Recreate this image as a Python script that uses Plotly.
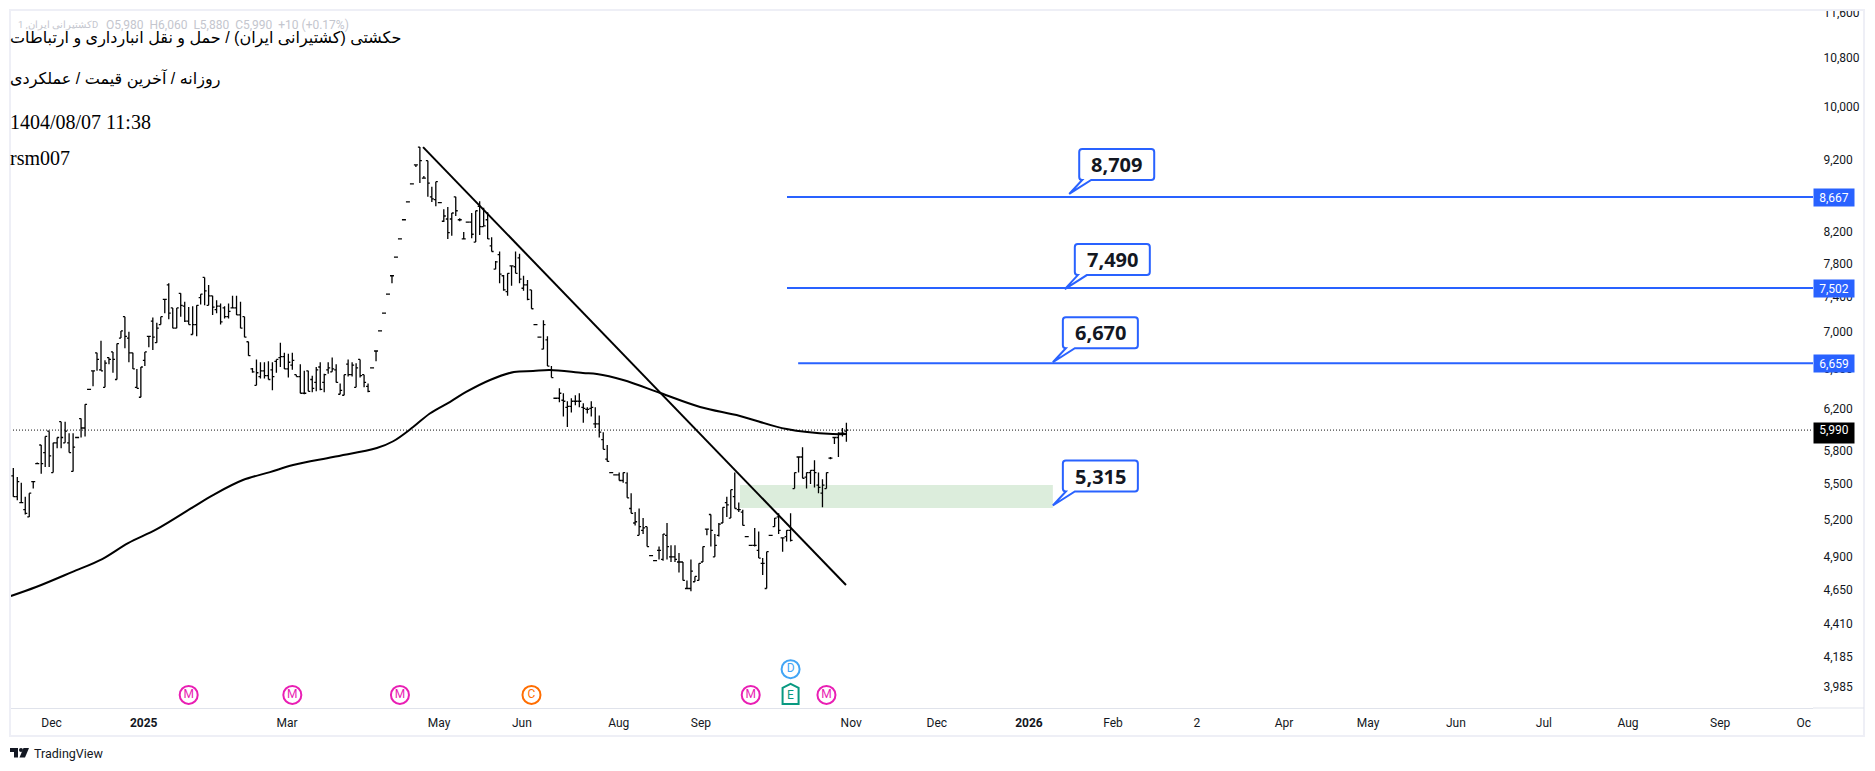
import math
import plotly.graph_objects as go

opens = [
 5570,5390,5340,5280,5220,5520,5680,5850,5780,5980,
 5600,5870,6070,5870,5870,5610,5920,6100,6010,6390,
 6580,6770,6590,6410,6720,6780,6490,6930,7170,6930,
 6770,6410,6310,6690,6950,7120,6880,7080,7370,7540,
 7270,7040,7440,7290,7120,6970,7080,7390,7630,7300,
 7410,7250,7290,7270,7170,7270,7270,7190,7170,6890,
 6600,6430,6520,6580,6530,6590,6680,6720,6730,6600,
 6640,6540,6520,6350,6580,6490,6460,6620,6460,6590,
 6570,6590,6340,6330,6650,6540,6410,6700,6540,6420,
 6610,6790,7010,7210,7430,7650,7880,8110,8360,8600,
 8850,9120,9380,8930,9180,8670,8630,8590,8340,8370,
 8370,8670,8360,8110,8330,8330,8070,8540,8270,8360,
 8020,7730,7910,7650,7460,7770,7760,7870,7500,7540,
 7480,7080,6940,6810,6910,6590,6300,6300,6280,6210,
 6220,6270,6270,6210,6190,6200,6050,6050,5900,5720,
 5600,5580,5580,5530,5510,5290,5170,5070,5110,5140,
 4910,4870,4950,4880,5070,4900,4900,4860,4860,4660,
 4660,4710,4720,4860,5120,5240,4900,5070,5170,5340,
 5210,5390,5280,5260,5060,4990,4990,4950,4850,4660,
 5070,5140,5220,5050,5060,5110,5460,5740,5740,5560,
 5600,5620,5490,5420,5460,5730,5920,5920,5960,5980]
highs = [
 5640,5560,5510,5390,5420,5520,5690,5850,5930,5980,
 5870,5920,6070,6070,5960,5960,5920,6100,6240,6390,
 6580,6770,6900,6690,6720,6780,6870,7010,7170,7000,
 6770,6600,6620,6780,6950,7160,7100,7170,7370,7560,
 7270,7270,7440,7340,7280,7290,7300,7430,7630,7540,
 7410,7360,7320,7290,7320,7410,7410,7340,7170,6890,
 6610,6700,6670,6670,6680,6670,6700,6880,6770,6760,
 6770,6540,6650,6580,6580,6530,6620,6670,6550,6670,
 6720,6650,6450,6540,6700,6670,6660,6700,6540,6450,
 6610,6790,7010,7210,7430,7650,7880,8110,8360,8600,
 8850,9120,9380,8960,9180,8810,8880,8590,8500,8530,
 8450,8670,8380,8200,8330,8450,8480,8610,8520,8460,
 8130,7830,7950,7660,7680,7770,7950,7920,7650,7600,
 7480,7080,6940,7130,6950,6630,6300,6400,6350,6270,
 6300,6330,6350,6250,6210,6270,6210,6130,5970,5850,
 5600,5580,5600,5600,5600,5420,5260,5290,5210,5140,
 4910,4870,4980,5080,5170,4990,4990,4930,4860,4720,
 4880,4750,4850,4980,5120,5240,5080,5170,5300,5390,
 5450,5600,5340,5280,5060,4990,5130,5100,4890,4940,
 5070,5210,5250,5050,5110,5250,5600,5740,5830,5600,
 5620,5710,5600,5540,5600,5740,5920,5970,6010,6060]
lows = [
 5390,5360,5340,5240,5220,5460,5680,5590,5650,5650,
 5600,5820,5820,5870,5780,5610,5920,5920,5930,6390,
 6420,6580,6580,6410,6650,6560,6490,6930,6820,6670,
 6600,6400,6310,6630,6830,6800,6880,7080,7210,7140,
 7040,7040,7170,7110,7080,6970,6950,7310,7300,7300,
 7190,7210,7080,7150,7150,7270,7190,7040,6940,6740,
 6560,6430,6500,6500,6490,6380,6560,6620,6600,6510,
 6590,6520,6350,6340,6370,6360,6370,6380,6360,6550,
 6570,6460,6340,6330,6520,6520,6410,6510,6410,6360,
 6610,6680,7010,7210,7430,7560,7880,8110,8360,8600,
 8850,9090,8860,8930,8670,8600,8540,8590,8330,8110,
 8150,8410,8340,8110,8330,8120,8070,8160,8270,8110,
 7950,7730,7560,7470,7410,7530,7680,7560,7470,7360,
 7260,7080,6940,6810,6630,6510,6300,6260,6120,6020,
 6160,6230,6210,6060,6150,6120,6010,5920,5810,5700,
 5600,5580,5530,5510,5380,5250,5150,5070,5080,4980,
 4910,4870,4880,4870,4880,4860,4860,4780,4720,4660,
 4640,4710,4720,4860,5070,4980,4900,5060,5170,5220,
 5210,5290,5260,5150,5060,4990,4980,4890,4760,4660,
 5070,5140,5080,4940,5020,5020,5460,5600,5550,5460,
 5500,5470,5420,5300,5460,5720,5860,5740,5930,5880]
closes = [
 5390,5520,5340,5250,5420,5520,5680,5680,5930,5750,
 5870,5920,5920,5980,5780,5830,5920,6010,6240,6390,
 6580,6700,6580,6660,6700,6700,6870,7010,6950,6770,
 6600,6400,6620,6780,6950,6940,7040,7170,7370,7210,
 7040,7270,7300,7120,7080,7080,7300,7430,7470,7410,
 7280,7290,7110,7170,7230,7270,7190,7040,6940,6740,
 6570,6560,6580,6530,6490,6520,6700,6730,6600,6670,
 6690,6520,6350,6350,6370,6400,6590,6390,6540,6610,
 6600,6460,6380,6540,6540,6640,6610,6530,6460,6370,
 6610,6790,7010,7210,7430,7650,7880,8110,8360,8600,
 8850,9120,9180,8930,8860,8640,8880,8590,8410,8190,
 8450,8480,8360,8110,8330,8170,8480,8270,8280,8110,
 7950,7820,7670,7480,7680,7770,7680,7610,7540,7370,
 7260,7080,6940,7080,6630,6510,6300,6350,6270,6220,
 6270,6270,6270,6200,6190,6210,6050,5970,5810,5700,
 5600,5580,5530,5600,5380,5250,5180,5140,5130,4980,
 4910,4870,4950,5080,4980,4900,4880,4860,4720,4660,
 4790,4750,4850,4980,5120,5110,4990,5160,5300,5320,
 5450,5290,5280,5150,5060,4990,4990,4890,4850,4940,
 5070,5210,5110,5050,5110,5030,5600,5740,5550,5600,
 5620,5600,5470,5490,5600,5730,5920,5960,5960,5990]

ma_index = [-0.6,5.7,14.7,22.3,28.8,36,45.1,50.1,57.6,64.4,70.2,80.2,91.2,95.3,100.3,104.5,
            109.6,113.6,119.6,125.6,130.4,134.6,142.9,146.4,153,162.3,172.3,182.3,194,205.6,208.9]
ma_values = [4605,4671,4783,4883,5008,5120,5302,5404,5534,5604,5667,5740,5822,5885,6019,6150,
             6265,6363,6485,6568,6578,6589,6557,6547,6485,6353,6214,6126,6000,5952,5952]

trend_index = [102.8, 208.9]
trend_values = [9380, 4686]

level_values = [8667, 7502, 6659]
level_starts = [194.1, 194.1, 196.9]

callout_values = [8709, 7490, 6670, 5315]
callout_index = [264.9, 263.8, 260.8, 260.8]

zone_index = [182.3, 260.8]
zone_values = [5294, 5490]

last_price = 5990

price_ticks = [11600,10800,10000,9200,8200,7800,7400,7000,6600,6200,5800,5500,5200,4900,4650,4410,4185,3985]
time_pos = [9.6,32.7,68.7,106.8,127.6,151.9,172.5,210.2,231.7,254.8,275.9,296.9,318.8,339.9,361.9,384,405.1,428.2,449.2]
time_labels = ["Dec","<b>2025</b>","Mar","May","Jun","Aug","Sep","Nov","Dec","<b>2026</b>","Feb","2","Apr","May","Jun","Jul","Aug","Sep","Oc"]

event_index = [44,70,97,130,185,204]
event_letters = ["M","M","M","C","M","M"]
event_colors = ["#e91eb4","#e91eb4","#e91eb4","#ff6d00","#e91eb4","#e91eb4"]
dividend_index = 195
event_level = 3937
dividend_level = 4101

title_lines = ["حکشتی (کشتیرانی ایران) / حمل و نقل انبارداری و ارتباطات",
               "روزانه / آخرین قیمت / عملکردی",
               "1404/08/07 11:38",
               "rsm007"]
legend_name = "کشتیرانی ایران, 1D"
legend_ohlc = "O5,980  H6,060  L5,880  C5,990  +10 (+0.17%)"

W, H = 1875, 771
L, R, T, B = 10, 1813, 10, 708
BLUE = "#2962ff"
bar_index = list(range(len(closes)))
y_range = [math.log10(3856), math.log10(11657)]
x_range = [-0.83, 451.5]
def px(x): return (x - L) / (R - L)
def py(y): return (B - y) / (B - T)

fig = go.Figure()
fig.add_trace(go.Scatter(x=x_range, y=[last_price, last_price], mode="lines",
                         line=dict(color="#111111", width=1, dash="1px 2px")))
fig.add_trace(go.Ohlc(x=bar_index, open=opens, high=highs, low=lows, close=closes, tickwidth=0.5,
                      increasing=dict(line=dict(color="#000000", width=1.3)),
                      decreasing=dict(line=dict(color="#000000", width=1.3))))
fig.add_trace(go.Scatter(x=ma_index, y=ma_values, mode="lines",
                         line=dict(color="#000000", width=2, shape="spline", smoothing=1.0)))
fig.add_trace(go.Scatter(x=trend_index, y=trend_values, mode="lines", line=dict(color="#000000", width=2)))
for v, s in zip(level_values, level_starts):
    fig.add_trace(go.Scatter(x=[s, x_range[1]], y=[v, v], mode="lines", line=dict(color=BLUE, width=2)))
fig.add_trace(go.Scatter(x=event_index, y=[event_level]*len(event_index), mode="markers+text",
                         text=event_letters, textposition="middle center",
                         textfont=dict(color=event_colors, size=12, family="Roboto"),
                         marker=dict(size=18, color="#ffffff", line=dict(color=event_colors, width=2))))
fig.add_trace(go.Scatter(x=[dividend_index], y=[dividend_level], mode="markers+text", text=["D"],
                         textposition="middle center", textfont=dict(color="#42a5f5", size=12, family="Roboto"),
                         marker=dict(size=18, color="#ffffff", line=dict(color="#42a5f5", width=2))))

shapes = [
    dict(type="rect", layer="below", xref="x", yref="y", x0=zone_index[0], x1=zone_index[1],
         y0=zone_values[0], y1=zone_values[1], fillcolor="#dceddc", line=dict(width=0)),
    dict(type="rect", xref="paper", yref="paper", x0=px(1814), x1=px(1875), y0=py(10), y1=py(0),
         fillcolor="#ffffff", line=dict(width=0), layer="above"),
    dict(type="rect", xref="paper", yref="paper", x0=px(10), x1=px(1864), y0=py(736), y1=py(10),
         line=dict(color="#eeeff6", width=2), layer="above"),
    dict(type="line", xref="paper", yref="paper", x0=px(1813), x1=px(1864), y0=py(708), y1=py(708),
         line=dict(color="#e0e3eb", width=1)),
    dict(type="path", xref="x", yref="y", xsizemode="pixel", ysizemode="pixel",
         xanchor=dividend_index, yanchor=event_level,
         path="M -8,7 L 0,11 L 8,7 L 8,-9 L -8,-9 Z", fillcolor="#ffffff",
         line=dict(color="#089981", width=2)),
    dict(type="path", xref="paper", yref="paper",
         path=f"M {px(10)},{py(748)} L {px(18)},{py(748)} L {px(18)},{py(757.5)} L {px(14)},{py(757.5)} "
              f"L {px(14)},{py(752)} L {px(10)},{py(752)} Z", fillcolor="#131722", line=dict(width=0)),
    dict(type="path", xref="paper", yref="paper",
         path=f"M {px(23.5)},{py(748)} L {px(29)},{py(748)} L {px(25)},{py(757.5)} L {px(19.5)},{py(757.5)} Z",
         fillcolor="#131722", line=dict(width=0)),
    dict(type="circle", xref="paper", yref="paper", x0=px(19), x1=px(23), y0=py(752), y1=py(748),
         fillcolor="#131722", line=dict(width=0)),
]
callout_path = ("M 22,14 L 82,14 Q 85,14 85,17 L 85,42 Q 85,45 82,45 L 13,45 Q 10,45 10,42 "
                "L 10,17 Q 10,14 13,14 L 13,14 L 0,0 Z")
for v, i in zip(callout_values, callout_index):
    shapes.append(dict(type="path", xref="x", yref="y", xsizemode="pixel", ysizemode="pixel",
                       xanchor=i, yanchor=v, path=callout_path, fillcolor="#ffffff",
                       line=dict(color=BLUE, width=2), layer="above"))

anns = []
for v, i in zip(callout_values, callout_index):
    anns.append(dict(x=i, y=math.log10(v), xref="x", yref="y", text=f"<b>{v:,}</b>", showarrow=True,
                     arrowcolor="rgba(0,0,0,0)", ax=47.5, ay=-29.5,
                     font=dict(family="Open Sans", size=20, color="#131722")))
for v in level_values:
    anns.append(dict(x=px(R), xref="paper", xanchor="left", y=math.log10(v), yref="y", text=f"{v:,}",
                     showarrow=False, bgcolor=BLUE, width=40, height=17, borderpad=0,
                     font=dict(family="Roboto", size=12, color="#ffffff")))
anns.append(dict(x=px(R), xref="paper", xanchor="left", y=math.log10(last_price), yref="y", yshift=-3,
                 text=f"{last_price:,}", showarrow=False, bgcolor="#000000", width=40, height=20,
                 borderpad=0, valign="top", font=dict(family="Roboto", size=12, color="#ffffff")))
anns.append(dict(x=dividend_index, xref="x", xanchor="center", y=py(695), yref="paper", yanchor="middle",
                 text="E", showarrow=False, font=dict(family="Roboto", size=12, color="#089981")))
def text_at(x, y, s, **f):
    anns.append(dict(x=px(x), y=py(y), xref="paper", yref="paper", xanchor="left", yanchor="middle",
                     text=s, showarrow=False, font=f))
text_at(16, 25, legend_name, family="Roboto", size=9.5, color="#c4c6ce")
text_at(104, 25, legend_ohlc, family="Roboto", size=12, color="#c4c6ce")
text_at(8, 38, title_lines[0], family="Liberation Sans, DejaVu Sans", size=16, color="#000000")
text_at(8, 79, title_lines[1], family="Liberation Sans, DejaVu Sans", size=16, color="#000000")
text_at(8, 122, title_lines[2], family="Liberation Serif", size=20, color="#000000")
text_at(8, 158, title_lines[3], family="Liberation Serif", size=20, color="#000000")
text_at(32, 753, "TradingView", family="Roboto", size=12.5, color="#131722")

fig.update_layout(
    width=W, height=H, margin=dict(l=L, r=W - R, t=T, b=H - B, autoexpand=False), autosize=False,
    paper_bgcolor="#ffffff", plot_bgcolor="#ffffff", showlegend=False, hovermode=False,
    shapes=shapes, annotations=anns,
    xaxis=dict(range=x_range, tickmode="array", tickvals=time_pos, ticktext=time_labels, showgrid=False,
               zeroline=False, rangeslider=dict(visible=False), showline=True, linecolor="#e0e3eb", linewidth=1,
               ticks="outside", ticklen=4, tickcolor="rgba(0,0,0,0)", tickangle=0,
               tickfont=dict(family="Roboto", size=12, color="#131722")),
    yaxis=dict(type="log", range=y_range, side="right", tickmode="array", tickvals=price_ticks,
               ticktext=[f"{t:,}" for t in price_ticks], showgrid=False, zeroline=False, showline=False,
               ticks="outside", ticklen=7, tickcolor="rgba(0,0,0,0)",
               tickfont=dict(family="Roboto", size=12, color="#131722")),
)
fig.write_html("out.html", config={"displayModeBar": False},
               post_script="document.body.style.margin='0';")
